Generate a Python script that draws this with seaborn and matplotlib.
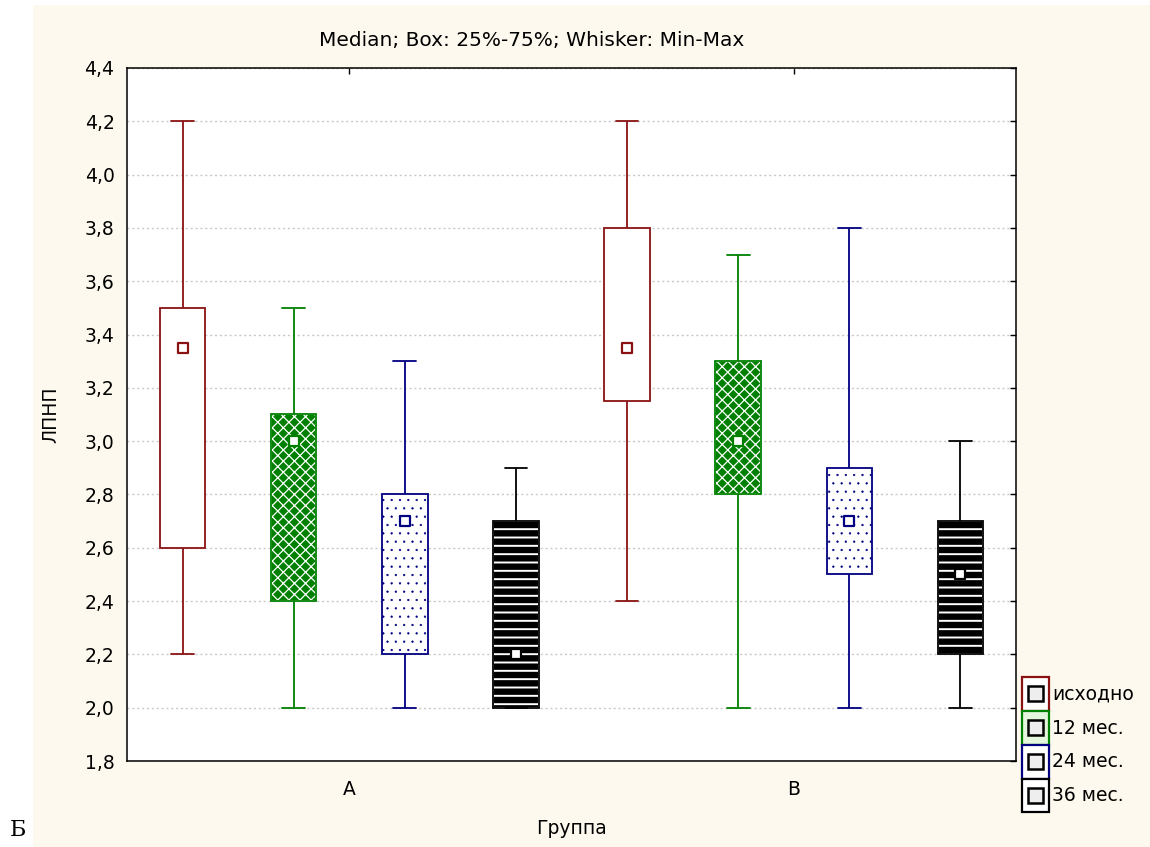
import numpy as np
import pandas as pd
import matplotlib
matplotlib.use("Agg")
import matplotlib.pyplot as plt
from matplotlib.patches import PathPatch, Rectangle
from matplotlib.legend_handler import HandlerBase
from matplotlib.ticker import MultipleLocator, FuncFormatter
import seaborn as sns

# Groups and follow-up periods
groups = ["A", "B"]
periods = ["исходно", "12 мес.", "24 мес.", "36 мес."]

# Five-number summaries (min, Q1, median, Q3, max) of LDL per group/period
a_base = [2.2, 2.6, 3.35, 3.5, 4.2]
a_12 = [2.0, 2.4, 3.0, 3.1, 3.5]
a_24 = [2.0, 2.2, 2.7, 2.8, 3.3]
a_36 = [2.0, 2.0, 2.2, 2.7, 2.9]
b_base = [2.4, 3.15, 3.35, 3.8, 4.2]
b_12 = [2.0, 2.8, 3.0, 3.3, 3.7]
b_24 = [2.0, 2.5, 2.7, 2.9, 3.8]
b_36 = [2.0, 2.2, 2.5, 2.7, 3.0]

summaries = {
    "A": [a_base, a_12, a_24, a_36],
    "B": [b_base, b_12, b_24, b_36],
}

rows = []
for g in groups:
    for per, vals in zip(periods, summaries[g]):
        for v in vals:
            rows.append({"group": g, "period": per, "slot": f"{g} {per}", "value": v})
df = pd.DataFrame(rows)
slots = [f"{g} {p}" for g in groups for p in periods]

# Drawing styles per period
dark_red = "#8a1212"
green = "#008000"
navy = "#000080"
black = "#000000"
styles = {
    "исходно": dict(face="white", line=dark_red, hatch=None, hatch_col=None, hatch_lw=1.0,
                    legend_face="white"),
    "12 мес.": dict(face=green, line=green, hatch="xxx", hatch_col="white", hatch_lw=0.9,
                    legend_face="#e4f6dc"),
    "24 мес.": dict(face="white", line=navy, hatch="..", hatch_col=None, hatch_lw=0.4,
                    legend_face="white"),
    "36 мес.": dict(face=black, line=black, hatch="--", hatch_col="white", hatch_lw=1.4,
                    legend_face="white"),
}

sns.set_theme(style="white")
plt.rcParams["font.family"] = ["DejaVu Sans"]
plt.rcParams["text.color"] = "black"
plt.rcParams["axes.labelcolor"] = "black"

fig = plt.figure(figsize=(11.5, 8.47), dpi=100, facecolor="white")
cream = "#fef9ee"
fig.add_artist(Rectangle((33 / 1150, 0), 1 - 33 / 1150, 1 - 5 / 847,
                         transform=fig.transFigure, facecolor=cream,
                         edgecolor="none", zorder=-10))

ax = fig.add_axes([127 / 1150, 1 - 761 / 847, (1016 - 127) / 1150, (761 - 68) / 847])
ax.set_facecolor("white")

lw = 1.3
for per in periods:
    st = styles[per]
    sub = df[df["period"] == per]
    n_before = len(ax.patches)
    with plt.rc_context({"hatch.linewidth": st["hatch_lw"]}):
        sns.boxplot(data=sub, x="slot", y="value", order=slots, whis=(0, 100),
                    width=0.41, color=st["face"], linecolor=st["line"], linewidth=lw,
                    saturation=1, fill=True, showfliers=False,
                    medianprops={"visible": False}, ax=ax)
    for p in ax.patches[n_before:]:
        if st["hatch"] is None:
            continue
        p.set_hatch(st["hatch"])
        if hasattr(p, "set_hatch_linewidth"):
            p.set_hatch_linewidth(st["hatch_lw"])
        if st["hatch_col"] is not None:
            p.set_edgecolor(st["hatch_col"])
            ax.add_patch(PathPatch(p.get_path(), transform=p.get_transform(),
                                   fill=False, edgecolor=st["line"], lw=lw,
                                   zorder=p.get_zorder() + 0.1))

# Median markers
for per in periods:
    st = styles[per]
    sub = df[df["period"] == per]
    med = sub.groupby("slot", sort=False)["value"].median().reset_index()
    sns.stripplot(data=med, x="slot", y="value", order=slots, jitter=False,
                  marker="s", size=7.5, color="white", edgecolor=st["line"],
                  linewidth=1.6, ax=ax, zorder=6)

# Axes formatting
ax.set_xlim(-0.5, len(slots) - 0.5)
ax.set_ylim(1.8, 4.4)
ax.yaxis.set_major_locator(MultipleLocator(0.2))
ax.yaxis.set_major_formatter(FuncFormatter(lambda v, _: f"{v:.1f}".replace(".", ",")))
group_pos = [np.mean([i for i, s in enumerate(slots) if s.startswith(g + " ")]) for g in groups]
ax.set_xticks(group_pos)
ax.set_xticklabels(groups)
ax.tick_params(axis="both", direction="in", length=4, width=1, color="black",
               top=True, right=True, labelsize=13.5, labelcolor="black")
ax.tick_params(axis="y", pad=9)
ax.tick_params(axis="x", pad=14)
ax.yaxis.grid(True, linestyle=(0, (1.5, 2)), color="#c8c8c8", linewidth=1)
ax.xaxis.grid(False)
ax.set_axisbelow(True)
for sp in ax.spines.values():
    sp.set_color("black")
    sp.set_linewidth(1.1)

ax.set_xlabel("Группа", fontsize=13.5, color="black")
ax.set_ylabel("ЛПНП", fontsize=13.5, color="black")
ax.xaxis.set_label_coords(0.5, -0.083)
ax.yaxis.set_label_coords(-0.075, 0.5)

fig.text(532 / 1150, 1 - 40 / 847, "Median; Box: 25%-75%; Whisker: Min-Max",
         ha="center", va="center", fontsize=14.5, color="black")


class FramedSquareHandler(HandlerBase):
    """Legend key: coloured frame with a small centred square inside."""

    def create_artists(self, legend, orig_handle, xdescent, ydescent,
                       width, height, fontsize, trans):
        outer = Rectangle((-xdescent, -ydescent), width, height,
                          facecolor=orig_handle.get_facecolor(),
                          edgecolor=orig_handle.get_edgecolor(),
                          lw=orig_handle.get_linewidth(), transform=trans)
        s = 0.55 * width
        cx = -xdescent + width / 2
        cy = -ydescent + height / 2
        inner = Rectangle((cx - s / 2, cy - s / 2), s, s, facecolor="#eeeeee",
                          edgecolor="black", lw=1.8, transform=trans)
        return [outer, inner]


handles = [Rectangle((0, 0), 1, 1, facecolor=styles[p]["legend_face"],
                     edgecolor=styles[p]["line"], lw=1.6) for p in periods]
fig.legend(handles, periods, loc="upper left",
           bbox_to_anchor=(1022 / 1150, 1 - 677 / 847), frameon=False,
           labelspacing=0.0, handlelength=1.45, handleheight=2.4,
           handletextpad=0.15, borderpad=0, borderaxespad=0, fontsize=13.5,
           labelcolor="black",
           handler_map={Rectangle: FramedSquareHandler()})

fig.text(10 / 1150, 1 - 830 / 847, "Б", ha="left", va="center", fontsize=16,
         family=["DejaVu Serif"], color="black")

fig.savefig("out.png", dpi=100, facecolor="white")
